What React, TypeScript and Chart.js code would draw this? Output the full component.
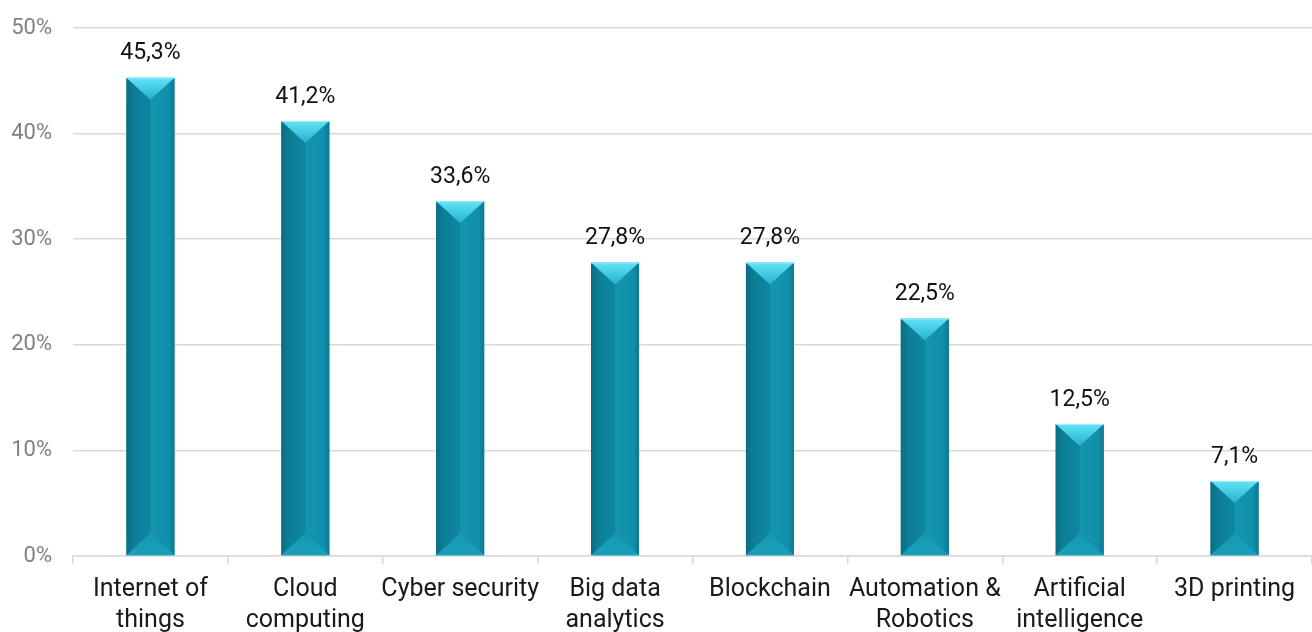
import React, { useEffect, useRef } from "react";
import { Chart, registerables } from "chart.js";

Chart.register(...registerables);

const categories: string[][] = [
  ["Internet of", "things"],
  ["Cloud", "computing"],
  ["Cyber security"],
  ["Big data", "analytics"],
  ["Blockchain"],
  ["Automation &", "Robotics"],
  ["Artificial", "intelligence"],
  ["3D printing"],
];
const values: number[] = [45.3, 41.2, 33.6, 27.8, 27.8, 22.5, 12.5, 7.1];
const yMax = 50;
const yStep = 10;

const FONT = "Roboto, 'DejaVu Sans', sans-serif";

const bevelPlugin = {
  id: "bevelBars",
  afterDatasetsDraw(chart: any) {
    const ctx: CanvasRenderingContext2D = chart.ctx;
    const meta = chart.getDatasetMeta(0);
    meta.data.forEach((bar: any, i: number) => {
      const { x, y, base, width } = bar.getProps(["x", "y", "base", "width"], true);
      const L = x - width / 2;
      const R = x + width / 2;
      const T = y;
      const B = base;
      const h = B - T;
      const b = Math.min(width * 0.46, h / 2);
      ctx.save();
      // left face
      let g = ctx.createLinearGradient(L, 0, x, 0);
      g.addColorStop(0, "#0a6c83");
      g.addColorStop(0.3, "#0d7e97");
      g.addColorStop(1, "#0f86a0");
      ctx.fillStyle = g;
      ctx.beginPath();
      ctx.moveTo(L, T);
      ctx.lineTo(x, T + b);
      ctx.lineTo(x, B - b);
      ctx.lineTo(L, B);
      ctx.closePath();
      ctx.fill();
      // right face
      g = ctx.createLinearGradient(x, 0, R, 0);
      g.addColorStop(0, "#1394af");
      g.addColorStop(0.75, "#1290ab");
      g.addColorStop(1, "#0c7890");
      ctx.fillStyle = g;
      ctx.beginPath();
      ctx.moveTo(R, T);
      ctx.lineTo(x, T + b);
      ctx.lineTo(x, B - b);
      ctx.lineTo(R, B);
      ctx.closePath();
      ctx.fill();
      // bottom face
      g = ctx.createLinearGradient(0, B - b, 0, B);
      g.addColorStop(0, "#1598b3");
      g.addColorStop(1, "#1a9fba");
      ctx.fillStyle = g;
      ctx.beginPath();
      ctx.moveTo(L, B);
      ctx.lineTo(x, B - b);
      ctx.lineTo(R, B);
      ctx.closePath();
      ctx.fill();
      // top face
      g = ctx.createLinearGradient(0, T, 0, T + b);
      g.addColorStop(0, "#62e4f8");
      g.addColorStop(1, "#25b0cf");
      ctx.fillStyle = g;
      ctx.beginPath();
      ctx.moveTo(L, T);
      ctx.lineTo(R, T);
      ctx.lineTo(x, T + b);
      ctx.closePath();
      ctx.fill();
      // top highlight
      ctx.strokeStyle = "#9af2ff";
      ctx.lineWidth = 1;
      ctx.beginPath();
      ctx.moveTo(L, T + 0.5);
      ctx.lineTo(R, T + 0.5);
      ctx.stroke();
      // label
      ctx.fillStyle = "#111111";
      ctx.font = `23px ${FONT}`;
      ctx.textAlign = "center";
      ctx.textBaseline = "middle";
      ctx.fillText(values[i].toFixed(1).replace(".", ",") + "%", x, T - 24);
      ctx.restore();
    });
  },
};

export default function App() {
  const ref = useRef<HTMLCanvasElement | null>(null);
  useEffect(() => {
    document.body.style.margin = "0";
    const canvas = ref.current;
    if (!canvas) return;
    const chart = new Chart(canvas, {
      type: "bar",
      data: {
        labels: categories,
        datasets: [
          {
            data: values,
            backgroundColor: "#0f88a2",
            borderWidth: 0,
            barPercentage: 0.31,
            categoryPercentage: 1,
          },
        ],
      },
      options: {
        animation: false,
        responsive: true,
        maintainAspectRatio: false,
        layout: { padding: { top: 28, right: 0, left: 0, bottom: 0 } },
        plugins: {
          legend: { display: false },
          tooltip: { enabled: false },
        },
        scales: {
          x: {
            offset: true,
            grid: {
              offset: true,
              drawOnChartArea: false,
              drawTicks: true,
              tickLength: 8,
              color: "#d9d9d9",
              lineWidth: 1.5,
            },
            border: { display: true, color: "#d9d9d9", width: 1.5 },
            ticks: {
              color: "#1a1a1a",
              font: { family: FONT, size: 25, lineHeight: 1.25 },
              padding: 10,
              maxRotation: 0,
              autoSkip: false,
            },
            afterFit(scale: any) {
              scale.height = 76;
            },
          },
          y: {
            min: 0,
            max: yMax,
            grid: {
              color: "#d9d9d9",
              lineWidth: 1.5,
              drawTicks: true,
              tickLength: 21,
              tickColor: "rgba(0,0,0,0)",
            },
            border: { display: false },
            ticks: {
              stepSize: yStep,
              color: "#808080",
              padding: 0,
              font: { family: FONT, size: 22 },
              callback: (v: any) => v + "%",
            },
            afterFit(scale: any) {
              scale.width = 73;
            },
          },
        },
      },
      plugins: [bevelPlugin],
    });
    return () => chart.destroy();
  }, []);
  return (
    <div style={{ width: 1312, height: 632, position: "relative", background: "#ffffff" }}>
      <canvas ref={ref} />
    </div>
  );
}
